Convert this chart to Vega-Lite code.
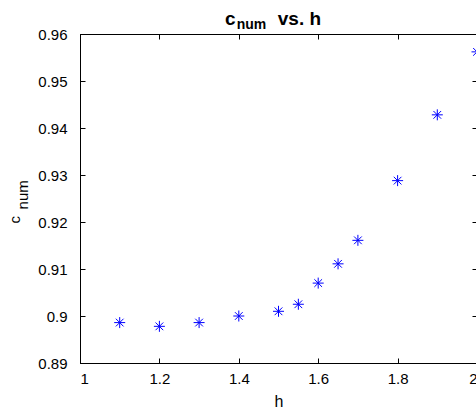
{
  "$schema": "https://vega.github.io/schema/vega-lite/v6.json",
  "width": 397,
  "height": 329,
  "autosize": {"type": "none"},
  "padding": {"left": 80, "top": 34, "right": 0, "bottom": 50},
  "background": "white",
  "config": {
    "font": "Liberation Sans",
    "view": {"stroke": "black", "strokeWidth": 1},
    "axis": {
      "grid": false,
      "domainColor": "black",
      "tickColor": "black",
      "labelColor": "black",
      "titleColor": "black",
      "labelFont": "Liberation Sans",
      "titleFont": "Liberation Sans",
      "labelFontSize": 15,
      "titleFontSize": 15,
      "titleFontWeight": "normal",
      "tickSize": -5
    }
  },
  "title": {
    "text": "c\u00a0\u00a0\u00a0\u00a0\u00a0\u00a0\u00a0\u00a0vs. h",
    "subtitle": "\u200b\u00a0\u00a0\u00a0num",
    "anchor": "start",
    "frame": "group",
    "dx": 145,
    "font": "Liberation Sans",
    "fontSize": 19,
    "fontWeight": "bold",
    "color": "black",
    "subtitleFont": "Liberation Sans",
    "subtitleFontSize": 14,
    "subtitleFontWeight": "bold",
    "subtitleColor": "black",
    "subtitlePadding": -11,
    "offset": -5
  },
  "data": {
    "values": [
      {"h": 1.1, "c": 0.8986},
      {"h": 1.2, "c": 0.8978},
      {"h": 1.3, "c": 0.8986},
      {"h": 1.4, "c": 0.9},
      {"h": 1.5, "c": 0.901},
      {"h": 1.55, "c": 0.9025},
      {"h": 1.6, "c": 0.907},
      {"h": 1.65, "c": 0.9111},
      {"h": 1.7, "c": 0.9161},
      {"h": 1.8, "c": 0.9288},
      {"h": 1.9, "c": 0.9428},
      {"h": 2.0, "c": 0.9562}
    ]
  },
  "layer": [
    {
      "mark": {
        "type": "point",
        "shape": "M-1,0L1,0M0,-1L0,1M-0.7,-0.7L0.7,0.7M-0.7,0.7L0.7,-0.7",
        "filled": false,
        "stroke": "#0000ff",
        "strokeWidth": 1,
        "opacity": 1,
        "size": 121
      },
      "encoding": {
        "x": {
          "field": "h", "type": "quantitative",
          "scale": {"domain": [1, 2], "nice": false, "zero": false},
          "axis": {"orient": "bottom", "values": [1, 1.2, 1.4, 1.6, 1.8, 2], "format": "~g", "labelPadding": 13, "title": "h", "titlePadding": 7, "titleFontSize": 16}
        },
        "y": {
          "field": "c", "type": "quantitative",
          "scale": {"domain": [0.89, 0.96], "nice": false, "zero": false},
          "axis": {"orient": "left", "values": [0.89, 0.9, 0.91, 0.92, 0.93, 0.94, 0.95, 0.96], "format": "~g", "labelPadding": 18,
            "title": ["c\u00a0\u00a0\u00a0\u00a0\u00a0\u00a0\u00a0\u00a0\u00a0\u00a0\u200b", "\u200b\u00a0\u00a0num"], "titleLineHeight": 8, "titleFontSize": 15, "titlePadding": 7}
        }
      }
    },
    {
      "mark": {"type": "point", "opacity": 0},
      "encoding": {
        "x": {
          "field": "h", "type": "quantitative",
          "scale": {"domain": [1, 2], "nice": false, "zero": false},
          "axis": {"orient": "top", "values": [1, 1.2, 1.4, 1.6, 1.8, 2], "labels": false, "title": null}
        },
        "y": {
          "field": "c", "type": "quantitative",
          "scale": {"domain": [0.89, 0.96], "nice": false, "zero": false},
          "axis": {"orient": "right", "values": [0.89, 0.9, 0.91, 0.92, 0.93, 0.94, 0.95, 0.96], "labels": false, "title": null}
        }
      }
    }
  ],
  "resolve": {"axis": {"x": "independent", "y": "independent"}}
}
